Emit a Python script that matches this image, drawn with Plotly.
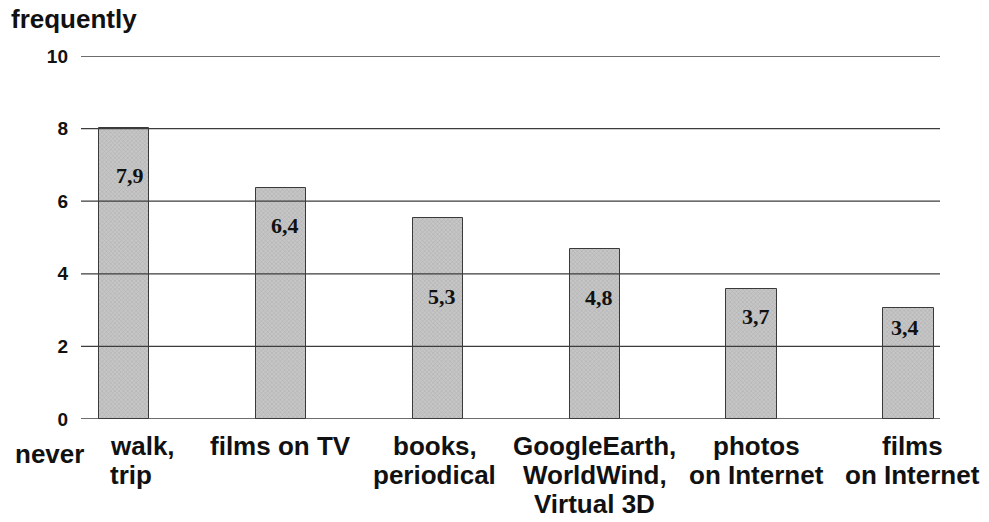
import plotly.graph_objects as go

# ---- data ----
categories = ["walk,\ntrip", "films on TV", "books,\nperiodical",
              "GoogleEarth,\nWorldWind,\nVirtual 3D", "photos\non Internet", "films\non Internet"]
bar_values = [8.02, 6.36, 5.53, 4.68, 3.59, 3.05]
value_labels = ["7,9", "6,4", "5,3", "4,8", "3,7", "3,4"]
label_pos = [6.70, 5.32, 3.37, 3.35, 2.82, 2.53]
y_ticks = [0, 2, 4, 6, 8, 10]

# ---- styles ----
sans = "Liberation Sans, Arial, sans-serif"
serif = "Liberation Serif, Times New Roman, serif"
label_dx = [6, 4, 4, 4, 4, -4]
cat_anchor = ["left", "center", "center", "center", "center", "center"]
cat_dx = [0, 0, -3, 0, 5, 4]

x_idx = list(range(len(categories)))

fig = go.Figure()
fig.add_trace(go.Bar(
    x=x_idx, y=bar_values, width=0.323,
    marker=dict(color="#b9b9b9",
                line=dict(color="#3a3a3a", width=1),
                pattern=dict(shape="x", size=3, solidity=0.35,
                             fgcolor="#9a9a9a", bgcolor="#c6c6c6")),
    hoverinfo="skip", showlegend=False,
))

shapes = []
for t in y_ticks:
    shapes.append(dict(type="line", xref="paper", yref="y", x0=0, x1=1, y0=t, y1=t,
                       line=dict(color="#3c3c3c", width=1.3), layer="above"))

annotations = []
for i, (txt, yp) in enumerate(zip(value_labels, label_pos)):
    annotations.append(dict(x=i, y=yp, xref="x", yref="y", text=txt, showarrow=False,
                            xshift=label_dx[i],
                            font=dict(family=serif, size=22, color="#111", weight="bold")))

for i, cat in enumerate(categories):
    for j, line in enumerate(cat.split("\n")):
        anchor = cat_anchor[i]
        annotations.append(dict(
            x=i + (-0.323 / 2 if anchor == "left" else 0), y=0, xref="x", yref="paper",
            text=line, showarrow=False, xanchor=anchor, yanchor="middle",
            xshift=cat_dx[i] + (9 if anchor == "left" else 0), yshift=-(27 + 29 * j),
            font=dict(family=sans, size=26, color="#111", weight="bold")))

annotations.append(dict(x=0, y=1, xref="paper", yref="paper", text="frequently",
                        showarrow=False, xanchor="left", yanchor="middle",
                        xshift=-72, yshift=37,
                        font=dict(family=sans, size=26, color="#111", weight="bold")))
annotations.append(dict(x=0, y=0, xref="paper", yref="paper", text="never",
                        showarrow=False, xanchor="left", yanchor="middle",
                        xshift=-68, yshift=-35,
                        font=dict(family=sans, size=26, color="#111", weight="bold")))

fig.update_layout(
    width=989, height=522,
    margin=dict(l=81, r=49, t=56, b=103),
    paper_bgcolor="white", plot_bgcolor="white",
    xaxis=dict(range=[-0.274, 5.199], showticklabels=False, showgrid=False,
               zeroline=False, showline=False, ticks=""),
    yaxis=dict(range=[0, 10], tickvals=y_ticks, showgrid=False, zeroline=False,
               showline=False, ticks="", ticklabelstandoff=12,
               tickfont=dict(family=sans, size=19, color="#111", weight="bold")),
    shapes=shapes, annotations=annotations,
    bargap=0,
)

fig.write_html("out.html", config={"displayModeBar": False},
               post_script="document.body.style.margin='0';document.body.style.overflow='hidden';")
